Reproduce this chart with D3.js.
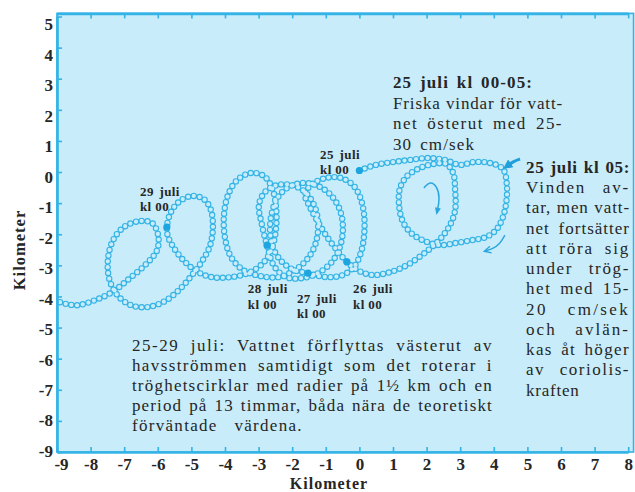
<!DOCTYPE html>
<html><head><meta charset="utf-8">
<script src="https://cdn.jsdelivr.net/npm/d3@7"></script>
<style>
body{margin:0;background:#fff;}
svg text{font-family:"Liberation Serif","Times New Roman",serif;fill:#262626;}
</style></head><body>
<svg id="c" width="635" height="492"></svg>
<script>
// ---------------- data (kilometres) ----------------
const xTickValues = [-9,-8,-7,-6,-5,-4,-3,-2,-1,0,1,2,3,4,5,6,7,8];
const yTickValues = [-9,-8,-7,-6,-5,-4,-3,-2,-1,0,1,2,3,4,5];

// drift track (x east, y north)
const trackStart = [[0.00,0.05],[0.49,0.23],[1.00,0.32],[1.51,0.39],[2.04,0.45],[2.55,0.39],[2.99,0.23],[3.41,0.32],[3.89,0.29],[4.27,0.10]];
const loopRight = [[4.39,-0.42],[4.36,-1.06],[4.24,-1.54],[4.07,-1.86],[3.77,-2.09],[3.35,-2.19],[2.88,-2.28],[2.40,-2.35]];
const loopMiddle = [[1.95,-2.22],[1.57,-1.99],[1.30,-1.61],[1.18,-1.06],[1.21,-0.51],[1.42,-0.13],[1.80,0.13],[2.22,0.26],[2.58,0.26],[2.79,-0.03],[2.85,-0.58],[2.85,-1.22],[2.70,-1.70],[2.43,-2.12],[2.16,-2.41],[1.86,-2.67],[1.42,-2.99],[0.91,-3.22],[0.40,-3.31],[-0.01,-3.18],[-0.37,-2.89]];
const loopL4 = [[-0.67,-2.51],[-0.96,-2.09],[-1.23,-1.61],[-1.47,-1.13],[-1.62,-0.71],[-1.41,-0.39],[-0.99,-0.19],[-0.55,-0.19],[-0.19,-0.42],[0.02,-0.80],[0.14,-1.38],[0.14,-2.03],[0.05,-2.57],[-0.16,-3.05],[-0.49,-3.31],[-0.87,-3.38],[-1.23,-3.34],[-1.53,-3.25]];
const loopL3 = [[-1.95,-3.15],[-2.30,-2.89],[-2.57,-2.44],[-2.66,-1.86],[-2.60,-1.29],[-2.42,-0.80],[-2.10,-0.48],[-1.68,-0.35],[-1.23,-0.45],[-0.85,-0.74],[-0.58,-1.22],[-0.49,-1.80],[-0.58,-2.41],[-0.82,-2.89],[-1.23,-3.25],[-1.71,-3.41],[-2.18,-3.38],[-2.54,-3.02]];
const loopL2 = [[-2.75,-2.35],[-2.90,-1.70],[-2.99,-1.06],[-2.81,-0.64],[-2.45,-0.42],[-2.01,-0.42],[-1.62,-0.64],[-1.35,-1.06],[-1.23,-1.61],[-1.29,-2.25],[-1.53,-2.77],[-1.92,-3.15],[-2.42,-3.38],[-2.96,-3.34],[-3.46,-3.15]];
const loopL1 = [[-3.82,-2.73],[-4.00,-2.12],[-4.03,-1.38],[-3.91,-0.74],[-3.64,-0.26],[-3.23,-0.03],[-2.84,-0.13],[-2.60,-0.51],[-2.48,-1.13],[-2.48,-1.80],[-2.60,-2.44],[-2.87,-2.93],[-3.32,-3.25],[-3.85,-3.38],[-4.39,-3.38],[-4.80,-3.22]];
const loopP = [[-5.19,-2.89],[-5.52,-2.44],[-5.70,-2.06],[-5.73,-1.77],[-5.61,-1.29],[-5.34,-0.93],[-4.98,-0.77],[-4.63,-0.87],[-4.42,-1.22],[-4.36,-1.80],[-4.45,-2.38],[-4.68,-2.86],[-4.98,-3.31],[-5.34,-3.76],[-5.79,-4.15],[-6.29,-4.34],[-6.80,-4.28]];
const loopQ = [[-7.21,-3.95],[-7.45,-3.41],[-7.48,-2.77],[-7.33,-2.19],[-7.01,-1.77],[-6.56,-1.58],[-6.17,-1.64],[-5.99,-2.03],[-6.02,-2.51],[-6.35,-2.96],[-6.83,-3.41],[-7.36,-3.86],[-7.87,-4.12],[-8.38,-4.28],[-8.73,-4.24],[-9.00,-4.15]];

const dayNames = ["25 juli","26 juli","27 juli","28 juli","29 juli"];
const dayPoints = [[0.00,0.05],[-0.37,-2.89],[-1.53,-3.25],[-2.75,-2.35],[-5.73,-1.77]];
const dayLabelAt = [[-1.17,0.42],[-0.19,-3.89],[-1.86,-4.21],[-3.32,-3.89],[-6.53,-0.77]];

const noteATitle = "25 juli kl 00-05:";
const noteALines = ["Friska vindar för vatt-","net österut med 25-","30 cm/sek"];
const noteBTitle = "25 juli kl 05:";
const noteBLines = ["Vinden av-","tar, men vatt-","net fortsätter","att röra sig","under trög-","het med 15-","20 cm/sek","och avlän-","kas åt höger","av coriolis-","kraften"];
const mainLines = ["25-29 juli: Vattnet förflyttas västerut av","havsströmmen samtidigt som det roterar i","tröghetscirklar med radier på 1½ km och en","period på 13 timmar, båda nära de teoretiskt","förväntade värdena."];

const arrowKl05 = [[4.78,0.42],[4.60,0.35],[4.39,0.19]];
const arrowSpin = [[1.92,-0.51],[2.10,-0.29],[2.31,-0.45],[2.40,-0.84],[2.31,-1.29]];
const arrowTurn = [[4.33,-2.03],[4.18,-2.32],[3.95,-2.48],[3.74,-2.54]];

// ---------------- drawing ----------------
const BG = "#c8ecf9", CY = "#33b3e6", DOT = "#1ca5de";
const svg = d3.select("#c");
const x = d3.scaleLinear().domain([-9, 8]).range([57, 628.2]);
const y = d3.scaleLinear().domain([-9, 5]).range([452, 16.5]);
const yLab = d3.scaleLinear().domain([-9, 5]).range([451, 24.5]);
const X0 = x(-9), X1 = x(8.16), Y0 = y(5.1), Y1 = y(-9);

const defs = svg.append("defs");
defs.append("marker").attr("id","hFill").attr("viewBox","0 0 10 10").attr("refX",5).attr("refY",5)
  .attr("markerWidth",3.2).attr("markerHeight",3.2).attr("orient","auto")
  .append("path").attr("d","M0,0 L10,5 L0,10 z").attr("fill","#1f9fdb");
defs.append("marker").attr("id","hSmall").attr("viewBox","0 0 10 10").attr("refX",6).attr("refY",5)
  .attr("markerWidth",5).attr("markerHeight",5).attr("orient","auto")
  .append("path").attr("d","M0,1 L10,5 L0,9 z").attr("fill","#2aa6df");
defs.append("marker").attr("id","hOpen").attr("viewBox","0 0 10 10").attr("refX",8).attr("refY",5)
  .attr("markerWidth",6).attr("markerHeight",6).attr("orient","auto")
  .append("path").attr("d","M1,1 L9,5 L1,9").attr("fill","none").attr("stroke","#2aa6df").attr("stroke-width",1.6);

svg.append("rect").attr("x",X0).attr("y",Y0).attr("width",X1-X0).attr("height",Y1-Y0)
  .attr("fill",BG);

// track of open circles
const track = [].concat(trackStart, loopRight, loopMiddle, loopL4, loopL3, loopL2, loopL1, loopP, loopQ);
const line = d3.line().x(d=>x(d[0])).y(d=>y(d[1])).curve(d3.curveCatmullRom.alpha(0.5));
svg.append("path").attr("d", line(track)).attr("fill","none").attr("stroke",CY)
  .attr("stroke-width",6.4).attr("stroke-linecap","round").attr("stroke-dasharray","0 5.8");
svg.append("path").attr("d", line(track)).attr("fill","none").attr("stroke",BG)
  .attr("stroke-width",4.2).attr("stroke-linecap","round").attr("stroke-dasharray","0 5.8");

// day dots
svg.selectAll("circle.day").data(dayPoints).join("circle").attr("class","day")
  .attr("cx",d=>x(d[0])).attr("cy",d=>y(d[1])).attr("r",3.6).attr("fill",DOT);

// arrows
const aLine = d3.line().x(d=>x(d[0])).y(d=>y(d[1])).curve(d3.curveBasis);
svg.append("path").attr("d",aLine(arrowKl05)).attr("fill","none").attr("stroke","#1f9fdb")
  .attr("stroke-width",3).attr("marker-end","url(#hFill)");
svg.append("path").attr("d",aLine(arrowSpin)).attr("fill","none").attr("stroke","#2aa6df")
  .attr("stroke-width",1.5).attr("marker-end","url(#hSmall)");
svg.append("path").attr("d",aLine(arrowTurn)).attr("fill","none").attr("stroke","#2aa6df")
  .attr("stroke-width",1.4).attr("marker-end","url(#hOpen)");

// frame and axes
svg.append("rect").attr("x",X0).attr("y",Y0).attr("width",X1-X0).attr("height",Y1-Y0)
  .attr("fill","none").attr("stroke",CY).attr("stroke-width",1.6);
const fmt = d => String(d);
const gB = svg.append("g").attr("transform",`translate(0,${Y1})`)
  .call(d3.axisBottom(x).tickValues(xTickValues).tickSizeInner(-5).tickSizeOuter(0).tickPadding(6).tickFormat(fmt));
const gT = svg.append("g").attr("transform",`translate(0,${Y0})`)
  .call(d3.axisTop(x).tickValues(xTickValues).tickSizeInner(-5).tickSizeOuter(0).tickFormat(""));
const gL = svg.append("g").attr("transform",`translate(${X0},0)`)
  .call(d3.axisLeft(y).tickValues(yTickValues).tickSizeInner(-5).tickSizeOuter(0).tickFormat(""));
const gLL = svg.append("g").attr("transform",`translate(${X0},0)`)
  .call(d3.axisLeft(yLab).tickValues(yTickValues).tickSize(0).tickPadding(4).tickFormat(fmt));
gLL.select(".domain").remove();
[gB,gT,gL].forEach(g=>{
  g.select(".domain").attr("stroke",CY).attr("stroke-width",2.6);
  g.selectAll(".tick line").attr("stroke",CY).attr("stroke-width",1.6);
});
[gB,gLL].forEach(g=>g.selectAll("text")
  .style("font-family",'"Liberation Serif",serif').style("font-size","17px")
  .style("font-weight","bold").attr("fill","#333"));
gB.selectAll(".tick text").filter(d => d === -9).attr("dx", 4);

svg.append("text").attr("x",329).attr("y",488.5).attr("text-anchor","middle")
  .style("font-size","16px").style("font-weight","bold").style("letter-spacing","1px").text("Kilometer");
svg.append("text").attr("transform","translate(25,250) rotate(-90)").attr("text-anchor","middle")
  .style("font-size","16.5px").style("font-weight","bold").style("letter-spacing","1px").text("Kilometer");

// day labels
dayNames.forEach((n,i)=>{
  const t = svg.append("text").attr("x",x(dayLabelAt[i][0])).attr("y",y(dayLabelAt[i][1]))
    .style("font-size","13px").style("font-weight","bold").style("letter-spacing","0.4px");
  t.append("tspan").style("word-spacing","2px").text(n);
  t.append("tspan").attr("x",x(dayLabelAt[i][0])).attr("dy",15.5).text("kl 00");
});

// justified text blocks: extra room goes partly into letter spacing, rest into word gaps
function block(x0, yb, lh, lines, widths, size, bold, ls) {
  lines.forEach((ln,i)=>{
    const words = ln.split(" ");
    const t = svg.append("text").attr("y", yb + i*lh).style("font-size", size+"px")
      .style("font-weight", bold ? "bold" : "normal").style("letter-spacing", ls+"px");
    const sp = words.map(w => t.append("tspan").text(w));
    let ws = sp.map(s => s.node().getComputedTextLength());
    const target = widths[i];
    const normal = size*0.26;
    if (target != null) {
      const nch = d3.sum(words, w => w.length);
      const extra = target - d3.sum(ws) - normal*(words.length-1);
      if (extra > 0) {
        const add = Math.min(1.6, extra*0.45/nch);
        t.style("letter-spacing", (ls+add)+"px");
        ws = sp.map(s => s.node().getComputedTextLength());
      }
    }
    const gap = (target == null || words.length < 2) ? normal : (target - d3.sum(ws))/(words.length-1);
    let cx = x0;
    sp.forEach((s,j)=>{ s.attr("x", cx); cx += ws[j] + gap; });
  });
}
block(x(1.0), y(2.70), 20.7, [noteATitle], [140], 17, true, 0.5);
block(x(1.0), y(2.70)+20.7, 20.7, noteALines, [170,170,82], 17, false, 0.75);
block(x(4.96), y(-0.03), 20.25, [noteBTitle], [104], 17, true, 0.3);
block(x(4.96), y(-0.03)+20.25, 20.25, noteBLines, [104,104,104,104,104,104,104,104,104,104,null], 17, false, 0.75);
block(x(-6.77), y(-5.76), 20, mainLines, [361,361,361,361,171], 17, false, 0.75);
</script>
</body></html>
